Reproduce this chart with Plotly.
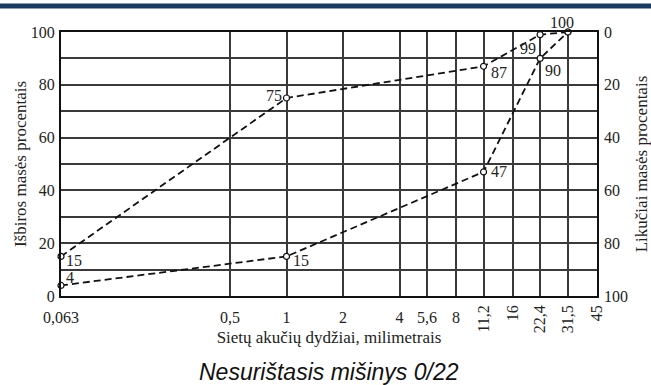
import math
import plotly.graph_objects as go

# ---- data ----
sieve_sizes = [0.063, 0.5, 1, 2, 4, 5.6, 8, 11.2, 16, 22.4, 31.5, 45]
sieve_labels = ["0,063", "0,5", "1", "2", "4", "5,6", "8", "11,2", "16", "22,4", "31,5", "45"]
flat_labels_count = 7  # first seven labels horizontal, the rest vertical

upper_x = [0.063, 1, 11.2, 22.4, 31.5]
upper_y = [15, 75, 87, 99, 100]
lower_x = [0.063, 1, 11.2, 22.4, 31.5]
lower_y = [4, 15, 47, 90, 100]

left_ticks = [0, 10, 20, 30, 40, 50, 60, 70, 80, 90, 100]
right_ticks = [0, 20, 40, 60, 80, 100]

# label placement per point: (xanchor, xshift, yshift); None = shared label drawn once
upper_lbl = [("left", 3, -4), ("right", -3, 3), ("left", 5, -6), ("right", -2, -14), ("center", -6, 10)]
lower_lbl = [("left", 3, 8), ("left", 4, -4), ("left", 5, 0), ("left", 3, -12), None]

SERIF = "Liberation Serif"
TXT = "#222222"
GRID = "#3a3a3a"

fig = go.Figure()

line_style = dict(color="#111111", width=1.8, dash="7px,4px")
marker_style = dict(symbol="circle", size=6, color="white", line=dict(color="#111111", width=1.2))

for xs, ys in [(upper_x, upper_y), (lower_x, lower_y)]:
    fig.add_trace(go.Scatter(x=xs, y=ys, mode="lines+markers", line=line_style,
                             marker=marker_style, cliponaxis=False, showlegend=False,
                             hoverinfo="skip"))

# helper trace for the secondary axes
fig.add_trace(go.Scatter(x=[sieve_sizes[0], sieve_sizes[-1]], y=[0, 100], xaxis="x2", yaxis="y2",
                         mode="markers", marker=dict(opacity=0), showlegend=False, hoverinfo="skip"))

annotations = []
for xs, ys, specs in [(upper_x, upper_y, upper_lbl), (lower_x, lower_y, lower_lbl)]:
    for x, y, spec in zip(xs, ys, specs):
        if spec is None:
            continue
        xa, xs_, ys_ = spec
        annotations.append(dict(x=math.log10(x), y=y, xref="x", yref="y", text=str(y),
                                showarrow=False, xanchor=xa, yanchor="middle",
                                xshift=xs_, yshift=ys_,
                                font=dict(family=SERIF, size=16, color=TXT)))

# chart title
annotations.append(dict(text="Nesurištasis mišinys 0/22", xref="paper", yref="paper",
                        x=0.5, y=-0.288, xanchor="center", yanchor="middle", showarrow=False,
                        font=dict(family="Liberation Sans", size=23, color="#111111",
                                  style="italic")))

xr = [math.log10(sieve_sizes[0]), math.log10(sieve_sizes[-1])]

fig.update_layout(
    width=651, height=385,
    margin=dict(l=61, r=54, t=32, b=89, autoexpand=False),
    paper_bgcolor="white", plot_bgcolor="white",
    xaxis=dict(type="log", range=xr, tickvals=sieve_sizes[:flat_labels_count],
               ticktext=sieve_labels[:flat_labels_count], tickangle=0, automargin=False,
               showgrid=False, zeroline=False, showline=True, mirror=True,
               linecolor="#111111", linewidth=2, ticks="", ticklabelstandoff=6,
               tickfont=dict(family=SERIF, size=16, color=TXT),
               title=dict(text="Sietų akučių dydžiai, milimetrais", standoff=6,
                          font=dict(family=SERIF, size=17, color=TXT))),
    xaxis2=dict(type="log", range=xr, overlaying="x", side="bottom", anchor="y",
                tickvals=sieve_sizes, ticktext=[""] * flat_labels_count + sieve_labels[flat_labels_count:],
                tickangle=-90, showgrid=True, gridcolor=GRID, gridwidth=1.6, automargin=False,
                zeroline=False, showline=False, ticks="", ticklabelstandoff=5,
                tickfont=dict(family=SERIF, size=16, color=TXT)),
    yaxis=dict(range=[0, 100], tickvals=left_ticks,
               ticktext=[str(v) if v % 20 == 0 else "" for v in left_ticks],
               showgrid=True, gridcolor=GRID, gridwidth=1.6, zeroline=False, automargin=False,
               showline=True, mirror=True, linecolor="#111111", linewidth=2, ticks="",
               ticklabelstandoff=1,
               tickfont=dict(family=SERIF, size=16, color=TXT),
               title=dict(text="Išbiros masės procentais", standoff=0,
                          font=dict(family=SERIF, size=17, color=TXT))),
    yaxis2=dict(range=[100, 0], overlaying="y", side="right", anchor="x",
                tickvals=right_ticks, showgrid=False, zeroline=False, showline=False,
                ticks="", ticklabelstandoff=6, automargin=False,
                tickfont=dict(family=SERIF, size=16, color=TXT),
                title=dict(text="Likučiai masės procentais", standoff=8,
                           font=dict(family=SERIF, size=17, color=TXT))),
    annotations=annotations,
    shapes=[dict(type="rect", xref="paper", yref="paper", x0=-0.12, x1=1.12,
                 y0=1.089, y1=1.108, fillcolor="#1b3a5f", line=dict(width=0), layer="above")],
)

fig.write_html("out.html", config={"displayModeBar": False},
               post_script="document.body.style.margin='0';document.body.style.padding='0';")
